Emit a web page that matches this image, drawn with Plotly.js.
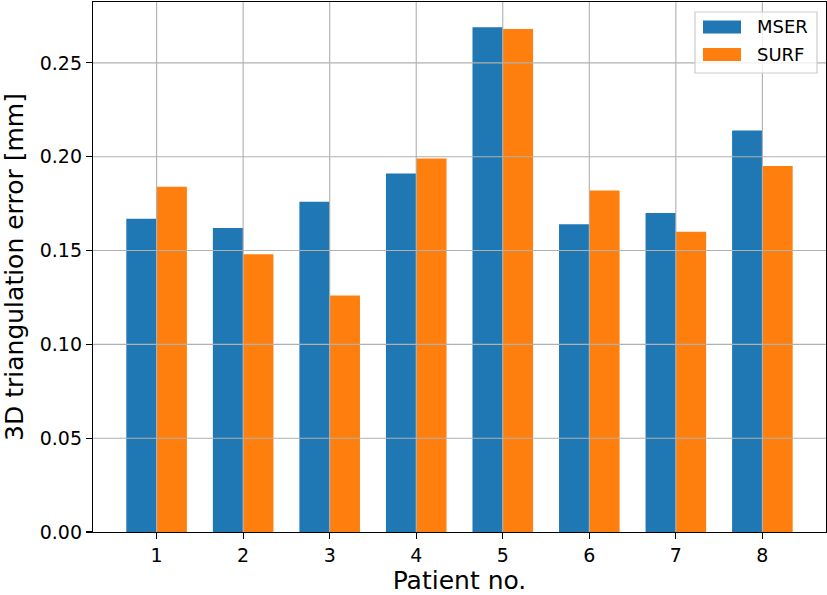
<!DOCTYPE html>
<html>
<head>
<meta charset="utf-8">
<script src="https://cdn.plot.ly/plotly-3.0.1.min.js"></script>
<style>html,body{margin:0;padding:0;background:#fff;}#chart{width:827px;height:595px;}</style>
</head>
<body>
<div id="chart"></div>
<script>
// ---- data ----
const patients = [1, 2, 3, 4, 5, 6, 7, 8];
const mserValues = [0.167, 0.162, 0.176, 0.191, 0.269, 0.164, 0.170, 0.214];
const surfValues = [0.184, 0.148, 0.126, 0.199, 0.268, 0.182, 0.160, 0.195];
const seriesNames = ['MSER', 'SURF'];
const yTicks = [0.00, 0.05, 0.10, 0.15, 0.20, 0.25];
const xTitle = 'Patient no.';
const yTitle = '3D triangulation error [mm]';

// ---- layout geometry (pixels) ----
const W = 827, H = 595;
const L = 93, R = 826, T = 2, B = 532;
const px = x => (x - L) / (R - L);
const py = y => (B - y) / (B - T);

const colors = ['#1f77b4', '#ff7f0e'];
const font = 'DejaVu Sans, sans-serif';

const traces = [
  {type: 'bar', x: patients, y: mserValues, name: seriesNames[0],
   marker: {color: colors[0], line: {width: 0}}, showlegend: false},
  {type: 'bar', x: patients, y: surfValues, name: seriesNames[1],
   marker: {color: colors[1], line: {width: 0}}, showlegend: false}
];

const shapes = [];
// grid drawn above the bars (as in the reference)
patients.forEach(p => shapes.push({type: 'line', layer: 'above', xref: 'x', yref: 'paper',
  x0: p, x1: p, y0: 0, y1: 1, line: {color: '#b0b0b0', width: 1.1}}));
yTicks.filter(v => v > 0).forEach(v => shapes.push({type: 'line', layer: 'above', xref: 'paper', yref: 'y',
  x0: 0, x1: 1, y0: v, y1: v, line: {color: '#b0b0b0', width: 1.1}}));

// legend box
shapes.push({type: 'rect', layer: 'above', xref: 'paper', yref: 'paper',
  x0: px(695), x1: px(817), y0: py(73), y1: py(12),
  fillcolor: 'rgba(255,255,255,0.8)', line: {color: '#cccccc', width: 1.2}});
const legendRows = [27, 54.5];
const annotations = [];
seriesNames.forEach((n, i) => {
  const cy = legendRows[i];
  shapes.push({type: 'rect', layer: 'above', xref: 'paper', yref: 'paper',
    x0: px(703), x1: px(741), y0: py(cy + 6.5), y1: py(cy - 6.5),
    fillcolor: colors[i], line: {width: 0}});
  annotations.push({xref: 'paper', yref: 'paper', x: px(755), y: py(cy),
    xanchor: 'left', yanchor: 'middle', text: n, showarrow: false,
    font: {family: font, size: 18, color: '#000'}});
});

const layout = {
  width: W, height: H,
  margin: {l: L, r: W - R, t: T, b: H - B, pad: 0},
  paper_bgcolor: '#fff', plot_bgcolor: '#fff',
  font: {family: font, size: 19, color: '#000'},
  barmode: 'group', bargap: 0.3, bargroupgap: 0,
  showlegend: false,
  xaxis: {
    range: [0.265, 8.735], tickvals: patients, ticktext: patients.map(String),
    showgrid: false, zeroline: false,
    showline: true, mirror: true, linecolor: '#000', linewidth: 1.2,
    ticks: 'outside', ticklen: 6, tickwidth: 1.2, tickcolor: '#000',
    tickfont: {family: font, size: 19, color: '#000'},
    title: {text: xTitle, font: {family: font, size: 25, color: '#000'}, standoff: 12},
    automargin: false
  },
  yaxis: {
    range: [0, 0.28245], tickvals: yTicks, tickformat: '.2f',
    showgrid: false, zeroline: false,
    showline: true, mirror: true, linecolor: '#000', linewidth: 1.2,
    ticks: 'outside', ticklen: 6, tickwidth: 1.2, tickcolor: '#000',
    tickfont: {family: font, size: 19, color: '#000'},
    title: {text: yTitle, font: {family: font, size: 25, color: '#000'}, standoff: 14},
    automargin: false
  },
  shapes: shapes,
  annotations: annotations
};

Plotly.newPlot('chart', traces, layout, {displayModeBar: false, staticPlot: true});
</script>
</body>
</html>
